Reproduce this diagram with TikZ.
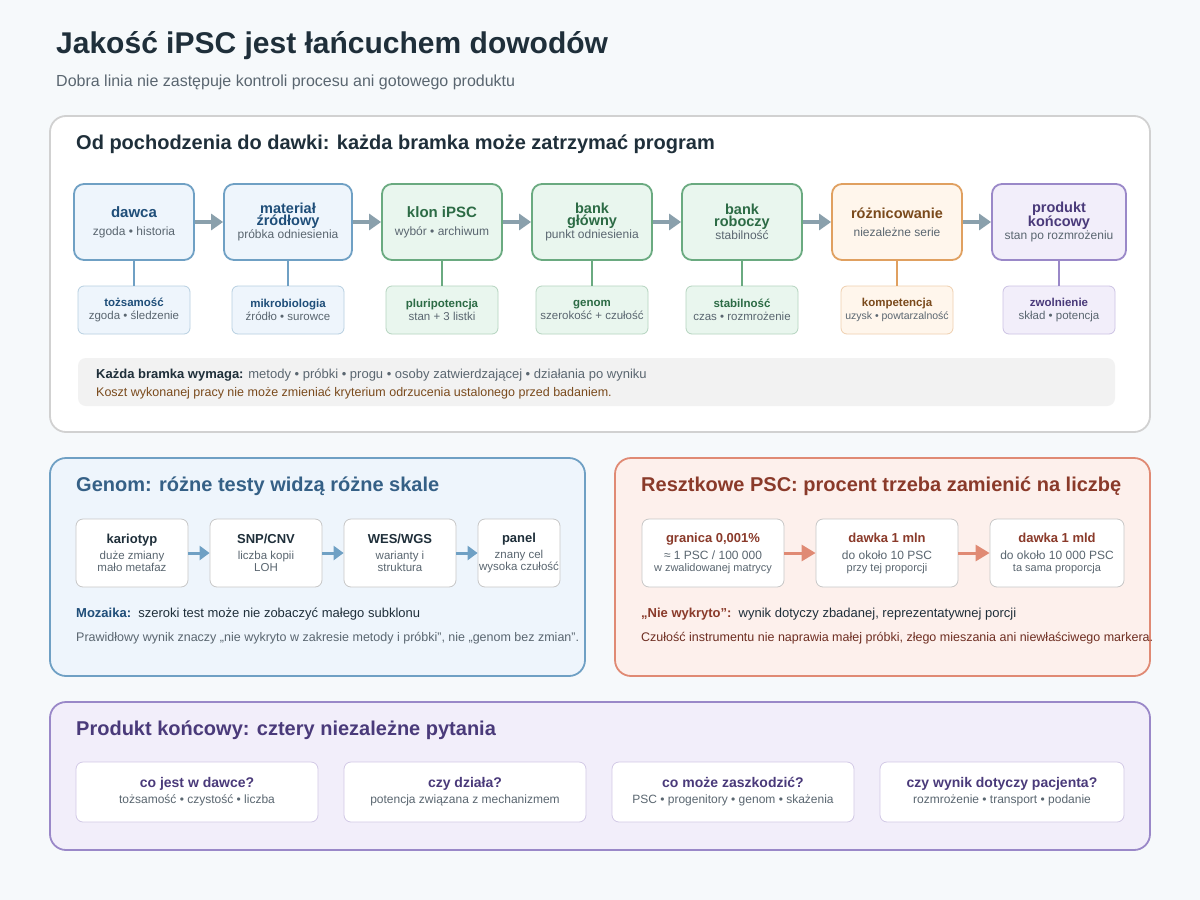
\documentclass[tikz,border=0pt]{standalone}
\usepackage{fontspec}
\setmainfont{Liberation Sans}
\usetikzlibrary{positioning,arrows.meta,calc}
\newcommand{\fsz}[1]{\fontsize{#1}{\fpeval{#1*1.3}}\selectfont}
\definecolor{bgc}{HTML}{F6F9FB}
\definecolor{ink}{HTML}{1F2F3A}
\definecolor{muted}{HTML}{5A6670}
\definecolor{bluB}{HTML}{6FA0C4}\definecolor{bluF}{HTML}{EEF5FC}\definecolor{bluT}{HTML}{1F4E79}
\definecolor{grnB}{HTML}{6AAA80}\definecolor{grnF}{HTML}{E9F6EE}\definecolor{grnT}{HTML}{2C6B45}
\definecolor{orgB}{HTML}{E0A060}\definecolor{orgF}{HTML}{FFF6EC}\definecolor{orgT}{HTML}{7A4A1C}
\definecolor{purB}{HTML}{9A88C8}\definecolor{purF}{HTML}{F2EEFA}\definecolor{purT}{HTML}{4A3A7A}
\definecolor{redB}{HTML}{E08A74}\definecolor{redF}{HTML}{FDF0EC}\definecolor{redT}{HTML}{8A3A2A}
\definecolor{arrc}{HTML}{8AA0AC}
\newcommand{\bt}[3]{{\bfseries\fsz{#1}\color{#2}#3}}
\newcommand{\st}[2]{{\fsz{#1}\color{muted}#2}}
\begin{document}
\begin{tikzpicture}[
    x=1pt, y=-1pt,
    panel/.style={draw, line width=1.8pt, rounded corners=16pt},
    stage/.style={rectangle, rounded corners=10pt, line width=1.8pt, minimum height=76pt, align=center, inner sep=2pt},
    gate/.style={rectangle, rounded corners=6pt, line width=0.8pt, minimum height=48pt, minimum width=112pt, align=center, inner sep=1pt},
    card/.style={rectangle, rounded corners=7pt, draw=black!22, fill=white, line width=0.8pt, align=center, inner sep=1pt},
    link/.style={line width=2pt},
    arrow/.style={-{Triangle[length=12pt,width=16pt]}, line width=3.5pt, draw=arrc},
    head/.style={anchor=west, font=\bfseries\fsz{20}},
    txt/.style={anchor=west, inner sep=0pt}
]
    \useasboundingbox (0,0) rectangle (1200,900);
    \fill[bgc] (0,0) rectangle (1200,900);

    % title
    \node[txt, text=ink, font=\bfseries\fsz{30}] (title) at (56,46) {Jakość iPSC jest łańcuchem dowodów};
    \node[txt, text=muted, font=\fsz{16}] (subtitle) at (56,82) {Dobra linia nie zastępuje kontroli procesu ani gotowego produktu};

    % panel 1
    \draw[panel, draw=black!18, fill=white] (50,116) rectangle (1150,432);
    \node[head, text=ink, inner sep=0pt] (p1) at (76,144) {Od pochodzenia do dawki: każda bramka może zatrzymać program};

    \node[stage, draw=bluB, fill=bluF, minimum width=120pt] (dawca) at (134,222)
        {\bt{15}{bluT}{dawca}\\[6pt]\st{12}{zgoda • historia}};
    \node[stage, draw=bluB, fill=bluF, minimum width=128pt] (mat) at (288,222)
        {\bt{14.5}{bluT}{materiał}\\\bt{14.5}{bluT}{źródłowy}\\[1pt]\st{12}{próbka odniesienia}};
    \node[stage, draw=grnB, fill=grnF, minimum width=120pt] (klon) at (442,222)
        {\bt{15}{grnT}{klon iPSC}\\[6pt]\st{12}{wybór • archiwum}};
    \node[stage, draw=grnB, fill=grnF, minimum width=120pt] (bankg) at (592,222)
        {\bt{14.5}{grnT}{bank}\\\bt{14.5}{grnT}{główny}\\[1pt]\st{12}{punkt odniesienia}};
    \node[stage, draw=grnB, fill=grnF, minimum width=120pt] (bankr) at (742,222)
        {\bt{14.5}{grnT}{bank}\\\bt{14.5}{grnT}{roboczy}\\[1pt]\st{12}{stabilność}};
    \node[stage, draw=orgB, fill=orgF, minimum width=130pt] (rozn) at (897,222)
        {\bt{14.5}{orgT}{różnicowanie}\\[6pt]\st{12}{niezależne serie}};
    \node[stage, draw=purB, fill=purF, minimum width=134pt] (prod) at (1059,222)
        {\bt{14.5}{purT}{produkt}\\\bt{14.5}{purT}{końcowy}\\[1pt]\st{12}{stan po rozmrożeniu}};

    \node[gate, draw=bluB!50, fill=bluF] (g1) at (134,310) {\bt{11.5}{bluT}{tożsamość}\\[1pt]\st{11.5}{zgoda • śledzenie}};
    \node[gate, draw=bluB!50, fill=bluF] (g2) at (288,310) {\bt{11.5}{bluT}{mikrobiologia}\\[1pt]\st{11.5}{źródło • surowce}};
    \node[gate, draw=grnB!50, fill=grnF] (g3) at (442,310) {\bt{11.5}{grnT}{pluripotencja}\\[1pt]\st{11.5}{stan + 3 listki}};
    \node[gate, draw=grnB!50, fill=grnF] (g4) at (592,310) {\bt{11.5}{grnT}{genom}\\[1pt]\st{11.5}{szerokość + czułość}};
    \node[gate, draw=grnB!50, fill=grnF] (g5) at (742,310) {\bt{11.5}{grnT}{stabilność}\\[1pt]\st{11.5}{czas • rozmrożenie}};
    \node[gate, draw=orgB!50, fill=orgF] (g6) at (897,310) {\bt{11.5}{orgT}{kompetencja}\\[1pt]\st{10.5}{uzysk • powtarzalność}};
    \node[gate, draw=purB!50, fill=purF] (g7) at (1059,310) {\bt{11.5}{purT}{zwolnienie}\\[1pt]\st{11.5}{skład • potencja}};

    \foreach \a/\b in {dawca/mat, mat/klon, klon/bankg, bankg/bankr, bankr/rozn, rozn/prod}
        \draw[arrow] (\a.east) -- (\b.west);
    \foreach \s/\g/\c in {dawca/g1/bluB, mat/g2/bluB, klon/g3/grnB, bankg/g4/grnB, bankr/g5/grnB, rozn/g6/orgB, prod/g7/purB}
        \draw[link, draw=\c] (\s.south) -- (\g.north);

    \fill[black!5, rounded corners=8pt] (78,358) rectangle (1115,406);
    \node[txt, text=muted, font=\fsz{13}] (req) at (96,375) {{\bfseries\color{ink}Każda bramka wymaga:} metody • próbki • progu • osoby zatwierdzającej • działania po wyniku};
    \node[txt, text=orgT, font=\fsz{12.5}] (cost) at (96,393) {Koszt wykonanej pracy nie może zmieniać kryterium odrzucenia ustalonego przed badaniem.};

    % panel 2
    \draw[panel, draw=bluB, fill=bluF] (50,458) rectangle (585,676);
    \node[head, text=bluT!90, inner sep=0pt] (p2) at (76,486) {Genom: różne testy widzą różne skale};
    \node[card, minimum width=112pt, minimum height=68pt] (kar) at (132,553) {\bt{13}{ink}{kariotyp}\\[4pt]\st{11.5}{duże zmiany}\\\st{11.5}{mało metafaz}};
    \node[card, minimum width=112pt, minimum height=68pt] (snp) at (266,553) {\bt{13}{ink}{SNP/CNV}\\[4pt]\st{11.5}{liczba kopii}\\\st{11.5}{LOH}};
    \node[card, minimum width=112pt, minimum height=68pt] (wes) at (400,553) {\bt{13}{ink}{WES/WGS}\\[4pt]\st{11.5}{warianty i}\\\st{11.5}{struktura}};
    \node[card, minimum width=82pt, minimum height=68pt] (pan) at (519,553) {\bt{13}{ink}{panel}\\[4pt]\st{11.5}{znany cel}\\\st{11.5}{wysoka czułość}};
    \foreach \a/\b in {kar/snp, snp/wes, wes/pan}
        \draw[arrow, draw=bluB, line width=3pt, -{Triangle[length=10pt,width=14pt]}] (\a.east) -- (\b.west);
    \node[txt, text=ink, font=\fsz{13}] (moz) at (76,614) {{\bfseries\color{bluT}Mozaika:}\ \ szeroki test może nie zobaczyć małego subklonu};
    \node[txt, text=muted, font=\fsz{12.5}] (prw) at (76,638) {Prawidłowy wynik znaczy „nie wykryto w zakresie metody i próbki”, nie „genom bez zmian”.};

    % panel 3
    \draw[panel, draw=redB, fill=redF] (615,458) rectangle (1150,676);
    \node[head, text=redT, inner sep=0pt] (p3) at (641,486) {Resztkowe PSC: procent trzeba zamienić na liczbę};
    \node[card, minimum width=142pt, minimum height=68pt] (gran) at (713,553) {\bt{13}{redT}{granica 0,001\%}\\[5pt]\st{12}{≈ 1 PSC / 100 000}\\\st{11}{w zwalidowanej matrycy}};
    \node[card, minimum width=142pt, minimum height=68pt] (mln) at (887,553) {\bt{13}{redT}{dawka 1 mln}\\[5pt]\st{12}{do około 10 PSC}\\\st{11}{przy tej proporcji}};
    \node[card, minimum width=134pt, minimum height=68pt] (mld) at (1057,553) {\bt{13}{redT}{dawka 1 mld}\\[5pt]\st{12}{do około 10 000 PSC}\\\st{11}{ta sama proporcja}};
    \foreach \a/\b in {gran/mln, mln/mld}
        \draw[arrow, draw=redB, line width=3pt, -{Triangle[length=14pt,width=16pt]}] (\a.east) -- (\b.west);
    \node[txt, text=ink, font=\fsz{13}] (nw) at (641,614) {{\bfseries\color{redT}„Nie wykryto”:}\ \ wynik dotyczy zbadanej, reprezentatywnej porcji};
    \node[txt, text=redT!80!black, font=\fsz{12.5}] (czu) at (641,638) {Czułość instrumentu nie naprawia małej próbki, złego mieszania ani niewłaściwego markera.};

    % panel 4
    \draw[panel, draw=purB, fill=purF] (50,702) rectangle (1150,850);
    \node[head, text=purT, inner sep=0pt] (p4) at (76,730) {Produkt końcowy: cztery niezależne pytania};
    \foreach \n/\cx/\w/\q/\a in {q1/197/242/co jest w dawce?/tożsamość • czystość • liczba,
                                  q2/465/242/czy działa?/potencja związana z mechanizmem,
                                  q3/733/242/co może zaszkodzić?/PSC • progenitory • genom • skażenia,
                                  q4/1002/244/czy wynik dotyczy pacjenta?/rozmrożenie • transport • podanie}
        \node[card, draw=purB!45, minimum width=\w pt, minimum height=60pt] (\n) at (\cx,792)
            {\bt{14}{purT}{\q}\\[4pt]\st{12}{\a}};
\end{tikzpicture}
\end{document}
